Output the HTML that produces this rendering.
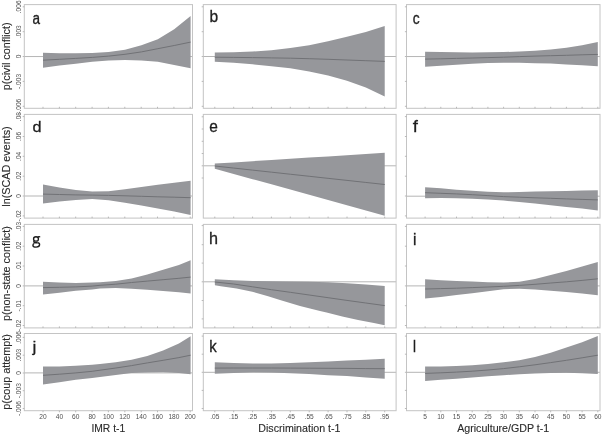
<!DOCTYPE html>
<html><head><meta charset="utf-8"><style>
html,body{margin:0;padding:0;background:#fff;width:602px;height:435px;overflow:hidden}
svg{display:block;font-family:"Liberation Sans",sans-serif;will-change:transform}
</style></head><body>
<svg width="602" height="435" viewBox="0 0 602 435">
<line x1="24.3" y1="56.55" x2="192.5" y2="56.55" stroke="#b5b5b5" stroke-width="1"/>
<polygon points="43.00,52.80 59.40,53.20 75.80,53.20 92.20,53.00 108.60,52.10 125.00,49.70 141.40,45.30 157.80,39.20 174.20,29.30 190.60,15.90 190.60,68.30 174.20,64.90 157.80,61.80 141.40,60.40 125.00,60.10 108.60,60.50 92.20,61.80 75.80,63.70 59.40,65.50 43.00,67.70" fill="#96979b"/>
<polyline points="43.00,60.20 59.40,59.30 75.80,58.40 92.20,57.40 108.60,56.10 125.00,54.30 141.40,51.90 157.80,48.70 174.20,45.50 190.60,42.10" fill="none" stroke="#717276" stroke-width="1"/>
<rect x="24.3" y="4.6" width="168.2" height="103.7" fill="none" stroke="#c4c4c4" stroke-width="1"/>
<line x1="22.7" y1="6.8" x2="24.3" y2="6.8" stroke="#a9a9a9" stroke-width="0.8"/>
<line x1="22.7" y1="31.7" x2="24.3" y2="31.7" stroke="#a9a9a9" stroke-width="0.8"/>
<line x1="22.7" y1="56.5" x2="24.3" y2="56.5" stroke="#a9a9a9" stroke-width="0.8"/>
<line x1="22.7" y1="81.4" x2="24.3" y2="81.4" stroke="#a9a9a9" stroke-width="0.8"/>
<line x1="22.7" y1="106.3" x2="24.3" y2="106.3" stroke="#a9a9a9" stroke-width="0.8"/>
<line x1="43.0" y1="106.8" x2="43.0" y2="108.3" stroke="#a9a9a9" stroke-width="0.8"/>
<line x1="59.4" y1="106.8" x2="59.4" y2="108.3" stroke="#a9a9a9" stroke-width="0.8"/>
<line x1="75.7" y1="106.8" x2="75.7" y2="108.3" stroke="#a9a9a9" stroke-width="0.8"/>
<line x1="92.1" y1="106.8" x2="92.1" y2="108.3" stroke="#a9a9a9" stroke-width="0.8"/>
<line x1="108.4" y1="106.8" x2="108.4" y2="108.3" stroke="#a9a9a9" stroke-width="0.8"/>
<line x1="124.8" y1="106.8" x2="124.8" y2="108.3" stroke="#a9a9a9" stroke-width="0.8"/>
<line x1="141.2" y1="106.8" x2="141.2" y2="108.3" stroke="#a9a9a9" stroke-width="0.8"/>
<line x1="157.5" y1="106.8" x2="157.5" y2="108.3" stroke="#a9a9a9" stroke-width="0.8"/>
<line x1="173.9" y1="106.8" x2="173.9" y2="108.3" stroke="#a9a9a9" stroke-width="0.8"/>
<line x1="190.2" y1="106.8" x2="190.2" y2="108.3" stroke="#a9a9a9" stroke-width="0.8"/>
<text transform="translate(32.44,24.39) scale(0.865,1)" font-size="15.64" fill="#1e1e1e" stroke="#1e1e1e" stroke-width="0.347">a</text>
<line x1="203.3" y1="56.50" x2="396.1" y2="56.50" stroke="#b5b5b5" stroke-width="1"/>
<polygon points="214.80,52.40 233.68,52.30 252.56,51.50 271.44,50.20 290.32,48.00 309.20,45.30 328.08,41.30 346.96,36.80 365.84,32.00 384.72,26.00 384.72,96.40 365.84,87.40 346.96,80.70 328.08,75.60 309.20,71.40 290.32,68.30 271.44,66.20 252.56,64.30 233.68,62.80 214.80,61.80" fill="#96979b"/>
<polyline points="214.80,57.20 233.68,57.40 252.56,57.60 271.44,57.90 290.32,58.20 309.20,58.70 328.08,59.30 346.96,60.00 365.84,60.70 384.72,61.40" fill="none" stroke="#717276" stroke-width="1"/>
<rect x="203.3" y="4.6" width="192.8" height="103.7" fill="none" stroke="#c4c4c4" stroke-width="1"/>
<line x1="201.7" y1="6.8" x2="203.3" y2="6.8" stroke="#a9a9a9" stroke-width="0.8"/>
<line x1="201.7" y1="31.7" x2="203.3" y2="31.7" stroke="#a9a9a9" stroke-width="0.8"/>
<line x1="201.7" y1="56.5" x2="203.3" y2="56.5" stroke="#a9a9a9" stroke-width="0.8"/>
<line x1="201.7" y1="81.4" x2="203.3" y2="81.4" stroke="#a9a9a9" stroke-width="0.8"/>
<line x1="201.7" y1="106.3" x2="203.3" y2="106.3" stroke="#a9a9a9" stroke-width="0.8"/>
<line x1="214.8" y1="106.8" x2="214.8" y2="108.3" stroke="#a9a9a9" stroke-width="0.8"/>
<line x1="233.7" y1="106.8" x2="233.7" y2="108.3" stroke="#a9a9a9" stroke-width="0.8"/>
<line x1="252.6" y1="106.8" x2="252.6" y2="108.3" stroke="#a9a9a9" stroke-width="0.8"/>
<line x1="271.4" y1="106.8" x2="271.4" y2="108.3" stroke="#a9a9a9" stroke-width="0.8"/>
<line x1="290.3" y1="106.8" x2="290.3" y2="108.3" stroke="#a9a9a9" stroke-width="0.8"/>
<line x1="309.2" y1="106.8" x2="309.2" y2="108.3" stroke="#a9a9a9" stroke-width="0.8"/>
<line x1="328.1" y1="106.8" x2="328.1" y2="108.3" stroke="#a9a9a9" stroke-width="0.8"/>
<line x1="347.0" y1="106.8" x2="347.0" y2="108.3" stroke="#a9a9a9" stroke-width="0.8"/>
<line x1="365.8" y1="106.8" x2="365.8" y2="108.3" stroke="#a9a9a9" stroke-width="0.8"/>
<line x1="384.7" y1="106.8" x2="384.7" y2="108.3" stroke="#a9a9a9" stroke-width="0.8"/>
<text transform="translate(209.44,22.19) scale(0.977,1)" font-size="15.92" fill="#1e1e1e" stroke="#1e1e1e" stroke-width="0.307">b</text>
<line x1="406.5" y1="56.55" x2="600.0" y2="56.55" stroke="#b5b5b5" stroke-width="1"/>
<polygon points="425.10,51.70 440.80,52.00 456.50,52.30 472.20,52.40 487.90,52.30 503.60,52.00 519.30,51.60 535.00,50.80 550.70,49.60 566.40,47.80 582.10,45.30 597.80,42.10 597.80,66.30 582.10,65.30 566.40,64.50 550.70,63.60 535.00,63.20 519.30,62.80 503.60,62.70 487.90,63.00 472.20,63.80 456.50,64.70 440.80,65.70 425.10,66.80" fill="#96979b"/>
<polyline points="425.10,59.10 440.80,58.80 456.50,58.40 472.20,58.00 487.90,57.60 503.60,57.20 519.30,56.60 535.00,56.10 550.70,55.70 566.40,55.30 582.10,54.80 597.80,54.40" fill="none" stroke="#717276" stroke-width="1"/>
<rect x="406.5" y="4.6" width="193.5" height="103.7" fill="none" stroke="#c4c4c4" stroke-width="1"/>
<line x1="404.9" y1="6.8" x2="406.5" y2="6.8" stroke="#a9a9a9" stroke-width="0.8"/>
<line x1="404.9" y1="31.7" x2="406.5" y2="31.7" stroke="#a9a9a9" stroke-width="0.8"/>
<line x1="404.9" y1="56.5" x2="406.5" y2="56.5" stroke="#a9a9a9" stroke-width="0.8"/>
<line x1="404.9" y1="81.4" x2="406.5" y2="81.4" stroke="#a9a9a9" stroke-width="0.8"/>
<line x1="404.9" y1="106.3" x2="406.5" y2="106.3" stroke="#a9a9a9" stroke-width="0.8"/>
<line x1="425.1" y1="106.8" x2="425.1" y2="108.3" stroke="#a9a9a9" stroke-width="0.8"/>
<line x1="440.8" y1="106.8" x2="440.8" y2="108.3" stroke="#a9a9a9" stroke-width="0.8"/>
<line x1="456.5" y1="106.8" x2="456.5" y2="108.3" stroke="#a9a9a9" stroke-width="0.8"/>
<line x1="472.2" y1="106.8" x2="472.2" y2="108.3" stroke="#a9a9a9" stroke-width="0.8"/>
<line x1="487.9" y1="106.8" x2="487.9" y2="108.3" stroke="#a9a9a9" stroke-width="0.8"/>
<line x1="503.6" y1="106.8" x2="503.6" y2="108.3" stroke="#a9a9a9" stroke-width="0.8"/>
<line x1="519.3" y1="106.8" x2="519.3" y2="108.3" stroke="#a9a9a9" stroke-width="0.8"/>
<line x1="535.0" y1="106.8" x2="535.0" y2="108.3" stroke="#a9a9a9" stroke-width="0.8"/>
<line x1="550.7" y1="106.8" x2="550.7" y2="108.3" stroke="#a9a9a9" stroke-width="0.8"/>
<line x1="566.4" y1="106.8" x2="566.4" y2="108.3" stroke="#a9a9a9" stroke-width="0.8"/>
<line x1="582.1" y1="106.8" x2="582.1" y2="108.3" stroke="#a9a9a9" stroke-width="0.8"/>
<line x1="597.8" y1="106.8" x2="597.8" y2="108.3" stroke="#a9a9a9" stroke-width="0.8"/>
<text transform="translate(412.73,23.69) scale(0.867,1)" font-size="15.82" fill="#1e1e1e" stroke="#1e1e1e" stroke-width="0.346">c</text>
<text transform="translate(20.6,6.8) rotate(-90)" text-anchor="middle" font-size="6.6" fill="#505050">.006</text>
<text transform="translate(20.6,31.7) rotate(-90)" text-anchor="middle" font-size="6.6" fill="#505050">.003</text>
<text transform="translate(20.6,56.5) rotate(-90)" text-anchor="middle" font-size="6.6" fill="#505050">0</text>
<text transform="translate(20.6,81.4) rotate(-90)" text-anchor="middle" font-size="6.6" fill="#505050">-.003</text>
<text transform="translate(20.6,106.3) rotate(-90)" text-anchor="middle" font-size="6.6" fill="#505050">-.006</text>
<text transform="translate(10.2,56.4) rotate(-90)" text-anchor="middle" font-size="10.8" fill="#2a2a2a" stroke="#2a2a2a" stroke-width="0.12">p(civil conflict)</text>
<line x1="24.3" y1="196.00" x2="192.5" y2="196.00" stroke="#b5b5b5" stroke-width="1"/>
<polygon points="43.00,184.60 59.40,187.50 75.80,189.90 92.20,191.50 108.60,191.20 125.00,189.20 141.40,187.00 157.80,184.80 174.20,182.80 190.60,180.70 190.60,215.00 174.20,211.60 157.80,208.60 141.40,205.60 125.00,202.80 108.60,200.30 92.20,199.10 75.80,200.00 59.40,201.60 43.00,203.60" fill="#96979b"/>
<polyline points="43.00,194.10 59.40,194.50 75.80,194.90 92.20,195.10 108.60,195.40 125.00,195.80 141.40,196.30 157.80,196.80 174.20,197.20 190.60,197.70" fill="none" stroke="#717276" stroke-width="1"/>
<rect x="24.3" y="114.4" width="168.2" height="103.7" fill="none" stroke="#c4c4c4" stroke-width="1"/>
<line x1="22.7" y1="116.6" x2="24.3" y2="116.6" stroke="#a9a9a9" stroke-width="0.8"/>
<line x1="22.7" y1="136.5" x2="24.3" y2="136.5" stroke="#a9a9a9" stroke-width="0.8"/>
<line x1="22.7" y1="156.3" x2="24.3" y2="156.3" stroke="#a9a9a9" stroke-width="0.8"/>
<line x1="22.7" y1="176.2" x2="24.3" y2="176.2" stroke="#a9a9a9" stroke-width="0.8"/>
<line x1="22.7" y1="196.0" x2="24.3" y2="196.0" stroke="#a9a9a9" stroke-width="0.8"/>
<line x1="22.7" y1="215.9" x2="24.3" y2="215.9" stroke="#a9a9a9" stroke-width="0.8"/>
<line x1="43.0" y1="216.6" x2="43.0" y2="218.1" stroke="#a9a9a9" stroke-width="0.8"/>
<line x1="59.4" y1="216.6" x2="59.4" y2="218.1" stroke="#a9a9a9" stroke-width="0.8"/>
<line x1="75.7" y1="216.6" x2="75.7" y2="218.1" stroke="#a9a9a9" stroke-width="0.8"/>
<line x1="92.1" y1="216.6" x2="92.1" y2="218.1" stroke="#a9a9a9" stroke-width="0.8"/>
<line x1="108.4" y1="216.6" x2="108.4" y2="218.1" stroke="#a9a9a9" stroke-width="0.8"/>
<line x1="124.8" y1="216.6" x2="124.8" y2="218.1" stroke="#a9a9a9" stroke-width="0.8"/>
<line x1="141.2" y1="216.6" x2="141.2" y2="218.1" stroke="#a9a9a9" stroke-width="0.8"/>
<line x1="157.5" y1="216.6" x2="157.5" y2="218.1" stroke="#a9a9a9" stroke-width="0.8"/>
<line x1="173.9" y1="216.6" x2="173.9" y2="218.1" stroke="#a9a9a9" stroke-width="0.8"/>
<line x1="190.2" y1="216.6" x2="190.2" y2="218.1" stroke="#a9a9a9" stroke-width="0.8"/>
<text transform="translate(32.50,131.59) scale(1.046,1)" font-size="15.51" fill="#1e1e1e" stroke="#1e1e1e" stroke-width="0.287">d</text>
<line x1="203.3" y1="165.80" x2="396.1" y2="165.80" stroke="#b5b5b5" stroke-width="1"/>
<polygon points="214.80,163.60 233.68,162.40 252.56,161.20 271.44,160.00 290.32,158.80 309.20,157.60 328.08,156.40 346.96,155.20 365.84,154.00 384.72,152.80 384.72,215.70 365.84,210.48 346.96,205.26 328.08,200.03 309.20,194.81 290.32,189.59 271.44,184.37 252.56,179.14 233.68,173.92 214.80,168.70" fill="#96979b"/>
<polyline points="214.80,166.00 233.68,168.06 252.56,170.11 271.44,172.17 290.32,174.22 309.20,176.28 328.08,178.33 346.96,180.39 365.84,182.44 384.72,184.50" fill="none" stroke="#717276" stroke-width="1"/>
<rect x="203.3" y="114.4" width="192.8" height="103.7" fill="none" stroke="#c4c4c4" stroke-width="1"/>
<line x1="201.7" y1="116.8" x2="203.3" y2="116.8" stroke="#a9a9a9" stroke-width="0.8"/>
<line x1="201.7" y1="129.0" x2="203.3" y2="129.0" stroke="#a9a9a9" stroke-width="0.8"/>
<line x1="201.7" y1="141.3" x2="203.3" y2="141.3" stroke="#a9a9a9" stroke-width="0.8"/>
<line x1="201.7" y1="153.5" x2="203.3" y2="153.5" stroke="#a9a9a9" stroke-width="0.8"/>
<line x1="201.7" y1="165.8" x2="203.3" y2="165.8" stroke="#a9a9a9" stroke-width="0.8"/>
<line x1="201.7" y1="178.0" x2="203.3" y2="178.0" stroke="#a9a9a9" stroke-width="0.8"/>
<line x1="214.8" y1="216.6" x2="214.8" y2="218.1" stroke="#a9a9a9" stroke-width="0.8"/>
<line x1="233.7" y1="216.6" x2="233.7" y2="218.1" stroke="#a9a9a9" stroke-width="0.8"/>
<line x1="252.6" y1="216.6" x2="252.6" y2="218.1" stroke="#a9a9a9" stroke-width="0.8"/>
<line x1="271.4" y1="216.6" x2="271.4" y2="218.1" stroke="#a9a9a9" stroke-width="0.8"/>
<line x1="290.3" y1="216.6" x2="290.3" y2="218.1" stroke="#a9a9a9" stroke-width="0.8"/>
<line x1="309.2" y1="216.6" x2="309.2" y2="218.1" stroke="#a9a9a9" stroke-width="0.8"/>
<line x1="328.1" y1="216.6" x2="328.1" y2="218.1" stroke="#a9a9a9" stroke-width="0.8"/>
<line x1="347.0" y1="216.6" x2="347.0" y2="218.1" stroke="#a9a9a9" stroke-width="0.8"/>
<line x1="365.8" y1="216.6" x2="365.8" y2="218.1" stroke="#a9a9a9" stroke-width="0.8"/>
<line x1="384.7" y1="216.6" x2="384.7" y2="218.1" stroke="#a9a9a9" stroke-width="0.8"/>
<text transform="translate(209.15,131.79) scale(0.968,1)" font-size="16.00" fill="#1e1e1e" stroke="#1e1e1e" stroke-width="0.310">e</text>
<line x1="406.5" y1="196.20" x2="600.0" y2="196.20" stroke="#b5b5b5" stroke-width="1"/>
<polygon points="425.10,187.20 440.80,188.20 456.50,189.70 472.20,190.80 487.90,191.70 503.60,192.30 519.30,192.00 535.00,191.60 550.70,191.30 566.40,191.00 582.10,190.60 597.80,190.30 597.80,210.60 582.10,208.60 566.40,206.90 550.70,205.30 535.00,203.60 519.30,201.90 503.60,200.60 487.90,199.40 472.20,198.70 456.50,198.20 440.80,197.90 425.10,198.20" fill="#96979b"/>
<polyline points="425.10,192.70 440.80,193.30 456.50,193.90 472.20,194.70 487.90,195.60 503.60,196.60 519.30,197.20 535.00,197.80 550.70,198.30 566.40,198.90 582.10,199.40 597.80,199.90" fill="none" stroke="#717276" stroke-width="1"/>
<rect x="406.5" y="114.4" width="193.5" height="103.7" fill="none" stroke="#c4c4c4" stroke-width="1"/>
<line x1="404.9" y1="116.6" x2="406.5" y2="116.6" stroke="#a9a9a9" stroke-width="0.8"/>
<line x1="404.9" y1="136.5" x2="406.5" y2="136.5" stroke="#a9a9a9" stroke-width="0.8"/>
<line x1="404.9" y1="156.3" x2="406.5" y2="156.3" stroke="#a9a9a9" stroke-width="0.8"/>
<line x1="404.9" y1="176.2" x2="406.5" y2="176.2" stroke="#a9a9a9" stroke-width="0.8"/>
<line x1="404.9" y1="196.0" x2="406.5" y2="196.0" stroke="#a9a9a9" stroke-width="0.8"/>
<line x1="404.9" y1="215.9" x2="406.5" y2="215.9" stroke="#a9a9a9" stroke-width="0.8"/>
<line x1="425.1" y1="216.6" x2="425.1" y2="218.1" stroke="#a9a9a9" stroke-width="0.8"/>
<line x1="440.8" y1="216.6" x2="440.8" y2="218.1" stroke="#a9a9a9" stroke-width="0.8"/>
<line x1="456.5" y1="216.6" x2="456.5" y2="218.1" stroke="#a9a9a9" stroke-width="0.8"/>
<line x1="472.2" y1="216.6" x2="472.2" y2="218.1" stroke="#a9a9a9" stroke-width="0.8"/>
<line x1="487.9" y1="216.6" x2="487.9" y2="218.1" stroke="#a9a9a9" stroke-width="0.8"/>
<line x1="503.6" y1="216.6" x2="503.6" y2="218.1" stroke="#a9a9a9" stroke-width="0.8"/>
<line x1="519.3" y1="216.6" x2="519.3" y2="218.1" stroke="#a9a9a9" stroke-width="0.8"/>
<line x1="535.0" y1="216.6" x2="535.0" y2="218.1" stroke="#a9a9a9" stroke-width="0.8"/>
<line x1="550.7" y1="216.6" x2="550.7" y2="218.1" stroke="#a9a9a9" stroke-width="0.8"/>
<line x1="566.4" y1="216.6" x2="566.4" y2="218.1" stroke="#a9a9a9" stroke-width="0.8"/>
<line x1="582.1" y1="216.6" x2="582.1" y2="218.1" stroke="#a9a9a9" stroke-width="0.8"/>
<line x1="597.8" y1="216.6" x2="597.8" y2="218.1" stroke="#a9a9a9" stroke-width="0.8"/>
<text transform="translate(412.77,131.75) scale(1.146,1)" font-size="16.14" fill="#1e1e1e" stroke="#1e1e1e" stroke-width="0.262">f</text>
<text transform="translate(20.6,116.6) rotate(-90)" text-anchor="middle" font-size="6.6" fill="#505050">.08</text>
<text transform="translate(20.6,136.5) rotate(-90)" text-anchor="middle" font-size="6.6" fill="#505050">.06</text>
<text transform="translate(20.6,156.3) rotate(-90)" text-anchor="middle" font-size="6.6" fill="#505050">.04</text>
<text transform="translate(20.6,176.2) rotate(-90)" text-anchor="middle" font-size="6.6" fill="#505050">.02</text>
<text transform="translate(20.6,196.0) rotate(-90)" text-anchor="middle" font-size="6.6" fill="#505050">0</text>
<text transform="translate(20.6,215.9) rotate(-90)" text-anchor="middle" font-size="6.6" fill="#505050">-.02</text>
<text transform="translate(10.2,166.5) rotate(-90)" text-anchor="middle" font-size="10.8" fill="#2a2a2a" stroke="#2a2a2a" stroke-width="0.12">ln(SCAD events)</text>
<line x1="24.3" y1="285.90" x2="192.5" y2="285.90" stroke="#b5b5b5" stroke-width="1"/>
<polygon points="43.00,281.70 59.40,282.50 75.80,282.90 92.20,282.60 100.00,282.30 115.80,281.10 131.60,278.40 147.30,274.50 163.10,269.70 178.90,265.00 190.60,260.20 190.60,293.50 178.90,292.30 163.10,291.00 147.30,289.80 131.60,288.70 115.80,288.00 100.00,288.40 92.20,289.40 75.80,290.80 59.40,292.70 43.00,294.60" fill="#96979b"/>
<polyline points="43.00,287.60 59.40,287.30 75.80,286.90 92.20,286.10 100.00,285.30 115.80,284.20 131.60,282.50 147.30,281.10 163.10,279.70 178.90,278.30 190.60,277.10" fill="none" stroke="#717276" stroke-width="1"/>
<rect x="24.3" y="224.4" width="168.2" height="103.5" fill="none" stroke="#c4c4c4" stroke-width="1"/>
<line x1="22.7" y1="226.4" x2="24.3" y2="226.4" stroke="#a9a9a9" stroke-width="0.8"/>
<line x1="22.7" y1="246.2" x2="24.3" y2="246.2" stroke="#a9a9a9" stroke-width="0.8"/>
<line x1="22.7" y1="266.0" x2="24.3" y2="266.0" stroke="#a9a9a9" stroke-width="0.8"/>
<line x1="22.7" y1="285.9" x2="24.3" y2="285.9" stroke="#a9a9a9" stroke-width="0.8"/>
<line x1="22.7" y1="305.7" x2="24.3" y2="305.7" stroke="#a9a9a9" stroke-width="0.8"/>
<line x1="22.7" y1="325.5" x2="24.3" y2="325.5" stroke="#a9a9a9" stroke-width="0.8"/>
<line x1="43.0" y1="326.4" x2="43.0" y2="327.9" stroke="#a9a9a9" stroke-width="0.8"/>
<line x1="59.4" y1="326.4" x2="59.4" y2="327.9" stroke="#a9a9a9" stroke-width="0.8"/>
<line x1="75.7" y1="326.4" x2="75.7" y2="327.9" stroke="#a9a9a9" stroke-width="0.8"/>
<line x1="92.1" y1="326.4" x2="92.1" y2="327.9" stroke="#a9a9a9" stroke-width="0.8"/>
<line x1="108.4" y1="326.4" x2="108.4" y2="327.9" stroke="#a9a9a9" stroke-width="0.8"/>
<line x1="124.8" y1="326.4" x2="124.8" y2="327.9" stroke="#a9a9a9" stroke-width="0.8"/>
<line x1="141.2" y1="326.4" x2="141.2" y2="327.9" stroke="#a9a9a9" stroke-width="0.8"/>
<line x1="157.5" y1="326.4" x2="157.5" y2="327.9" stroke="#a9a9a9" stroke-width="0.8"/>
<line x1="173.9" y1="326.4" x2="173.9" y2="327.9" stroke="#a9a9a9" stroke-width="0.8"/>
<line x1="190.2" y1="326.4" x2="190.2" y2="327.9" stroke="#a9a9a9" stroke-width="0.8"/>
<g fill="none" stroke="#1e1e1e" stroke-width="1.35"><ellipse cx="36.0" cy="238.9" rx="2.45" ry="2.2"/><path d="M37.6 236.75 L40.2 236.75"/><path d="M34.5 240.7 C33.3 241.6 33.6 242.7 35.4 242.75 L37.6 242.75"/><path d="M37.6 242.75 C39.3 242.8 39.6 243.5 39.6 244.6 C39.6 246.2 38.2 247.1 36.1 247.1 C34.0 247.1 32.9 246.3 32.9 245.2 C32.9 244.4 33.4 243.8 34.4 243.4"/></g>
<line x1="203.3" y1="281.80" x2="396.1" y2="281.80" stroke="#b5b5b5" stroke-width="1"/>
<polygon points="214.80,279.30 233.68,280.30 252.56,281.00 271.44,281.30 290.32,281.50 309.20,281.80 328.08,282.20 346.96,283.20 365.84,284.50 384.72,286.00 384.70,325.30 373.90,323.10 358.10,320.00 342.30,316.50 326.60,312.60 320.00,311.10 310.00,308.60 300.00,305.90 290.00,303.00 280.00,300.00 268.10,296.30 252.30,291.80 236.60,288.40 220.80,286.30 214.90,285.20" fill="#96979b"/>
<polyline points="214.80,282.00 233.68,284.00 252.56,286.80 271.44,289.70 290.32,292.30 309.20,295.00 328.08,297.70 346.96,300.40 365.84,303.00 384.72,305.60" fill="none" stroke="#717276" stroke-width="1"/>
<rect x="203.3" y="224.4" width="192.8" height="103.5" fill="none" stroke="#c4c4c4" stroke-width="1"/>
<line x1="201.7" y1="225.6" x2="203.3" y2="225.6" stroke="#a9a9a9" stroke-width="0.8"/>
<line x1="201.7" y1="244.7" x2="203.3" y2="244.7" stroke="#a9a9a9" stroke-width="0.8"/>
<line x1="201.7" y1="263.1" x2="203.3" y2="263.1" stroke="#a9a9a9" stroke-width="0.8"/>
<line x1="201.7" y1="281.8" x2="203.3" y2="281.8" stroke="#a9a9a9" stroke-width="0.8"/>
<line x1="201.7" y1="300.5" x2="203.3" y2="300.5" stroke="#a9a9a9" stroke-width="0.8"/>
<line x1="201.7" y1="318.9" x2="203.3" y2="318.9" stroke="#a9a9a9" stroke-width="0.8"/>
<line x1="214.8" y1="326.4" x2="214.8" y2="327.9" stroke="#a9a9a9" stroke-width="0.8"/>
<line x1="233.7" y1="326.4" x2="233.7" y2="327.9" stroke="#a9a9a9" stroke-width="0.8"/>
<line x1="252.6" y1="326.4" x2="252.6" y2="327.9" stroke="#a9a9a9" stroke-width="0.8"/>
<line x1="271.4" y1="326.4" x2="271.4" y2="327.9" stroke="#a9a9a9" stroke-width="0.8"/>
<line x1="290.3" y1="326.4" x2="290.3" y2="327.9" stroke="#a9a9a9" stroke-width="0.8"/>
<line x1="309.2" y1="326.4" x2="309.2" y2="327.9" stroke="#a9a9a9" stroke-width="0.8"/>
<line x1="328.1" y1="326.4" x2="328.1" y2="327.9" stroke="#a9a9a9" stroke-width="0.8"/>
<line x1="347.0" y1="326.4" x2="347.0" y2="327.9" stroke="#a9a9a9" stroke-width="0.8"/>
<line x1="365.8" y1="326.4" x2="365.8" y2="327.9" stroke="#a9a9a9" stroke-width="0.8"/>
<line x1="384.7" y1="326.4" x2="384.7" y2="327.9" stroke="#a9a9a9" stroke-width="0.8"/>
<text transform="translate(209.02,244.45) scale(1.003,1)" font-size="16.14" fill="#1e1e1e" stroke="#1e1e1e" stroke-width="0.299">h</text>
<line x1="406.5" y1="285.90" x2="600.0" y2="285.90" stroke="#b5b5b5" stroke-width="1"/>
<polygon points="425.10,279.20 440.80,280.20 456.50,280.90 472.20,281.60 487.90,282.30 503.60,282.60 519.30,281.70 535.00,279.00 550.70,275.00 566.40,270.90 582.10,266.50 597.80,262.00 597.80,295.30 582.10,293.60 566.40,292.10 550.70,290.80 535.00,289.50 519.30,288.80 503.60,289.20 487.90,291.20 472.20,293.20 456.50,295.10 440.80,296.90 425.10,298.60" fill="#96979b"/>
<polyline points="425.10,289.00 440.80,288.60 456.50,288.20 472.20,287.60 487.90,287.00 503.60,286.30 519.30,285.40 535.00,284.30 550.70,283.00 566.40,281.80 582.10,280.40 597.80,278.80" fill="none" stroke="#717276" stroke-width="1"/>
<rect x="406.5" y="224.4" width="193.5" height="103.5" fill="none" stroke="#c4c4c4" stroke-width="1"/>
<line x1="404.9" y1="226.4" x2="406.5" y2="226.4" stroke="#a9a9a9" stroke-width="0.8"/>
<line x1="404.9" y1="246.2" x2="406.5" y2="246.2" stroke="#a9a9a9" stroke-width="0.8"/>
<line x1="404.9" y1="266.0" x2="406.5" y2="266.0" stroke="#a9a9a9" stroke-width="0.8"/>
<line x1="404.9" y1="285.9" x2="406.5" y2="285.9" stroke="#a9a9a9" stroke-width="0.8"/>
<line x1="404.9" y1="305.7" x2="406.5" y2="305.7" stroke="#a9a9a9" stroke-width="0.8"/>
<line x1="404.9" y1="325.5" x2="406.5" y2="325.5" stroke="#a9a9a9" stroke-width="0.8"/>
<line x1="425.1" y1="326.4" x2="425.1" y2="327.9" stroke="#a9a9a9" stroke-width="0.8"/>
<line x1="440.8" y1="326.4" x2="440.8" y2="327.9" stroke="#a9a9a9" stroke-width="0.8"/>
<line x1="456.5" y1="326.4" x2="456.5" y2="327.9" stroke="#a9a9a9" stroke-width="0.8"/>
<line x1="472.2" y1="326.4" x2="472.2" y2="327.9" stroke="#a9a9a9" stroke-width="0.8"/>
<line x1="487.9" y1="326.4" x2="487.9" y2="327.9" stroke="#a9a9a9" stroke-width="0.8"/>
<line x1="503.6" y1="326.4" x2="503.6" y2="327.9" stroke="#a9a9a9" stroke-width="0.8"/>
<line x1="519.3" y1="326.4" x2="519.3" y2="327.9" stroke="#a9a9a9" stroke-width="0.8"/>
<line x1="535.0" y1="326.4" x2="535.0" y2="327.9" stroke="#a9a9a9" stroke-width="0.8"/>
<line x1="550.7" y1="326.4" x2="550.7" y2="327.9" stroke="#a9a9a9" stroke-width="0.8"/>
<line x1="566.4" y1="326.4" x2="566.4" y2="327.9" stroke="#a9a9a9" stroke-width="0.8"/>
<line x1="582.1" y1="326.4" x2="582.1" y2="327.9" stroke="#a9a9a9" stroke-width="0.8"/>
<line x1="597.8" y1="326.4" x2="597.8" y2="327.9" stroke="#a9a9a9" stroke-width="0.8"/>
<text transform="translate(412.99,244.55) scale(0.989,1)" font-size="15.72" fill="#1e1e1e" stroke="#1e1e1e" stroke-width="0.303">i</text>
<text transform="translate(20.6,226.4) rotate(-90)" text-anchor="middle" font-size="6.6" fill="#505050">.03</text>
<text transform="translate(20.6,246.2) rotate(-90)" text-anchor="middle" font-size="6.6" fill="#505050">.02</text>
<text transform="translate(20.6,266.0) rotate(-90)" text-anchor="middle" font-size="6.6" fill="#505050">.01</text>
<text transform="translate(20.6,285.9) rotate(-90)" text-anchor="middle" font-size="6.6" fill="#505050">0</text>
<text transform="translate(20.6,305.7) rotate(-90)" text-anchor="middle" font-size="6.6" fill="#505050">-.01</text>
<text transform="translate(20.6,325.5) rotate(-90)" text-anchor="middle" font-size="6.6" fill="#505050">-.02</text>
<text transform="translate(10.2,273.6) rotate(-90)" text-anchor="middle" font-size="10.8" fill="#2a2a2a" stroke="#2a2a2a" stroke-width="0.12">p(non-state conflict)</text>
<line x1="24.3" y1="372.90" x2="192.5" y2="372.90" stroke="#b5b5b5" stroke-width="1"/>
<polygon points="43.00,366.60 59.40,366.40 75.80,365.80 92.20,364.80 100.00,363.90 115.80,362.30 131.60,359.70 147.30,356.00 163.10,350.50 178.90,343.40 190.60,336.20 190.60,374.20 178.90,372.90 163.10,372.30 147.30,372.40 131.60,373.10 115.80,375.10 100.00,377.00 92.20,378.00 75.80,379.80 59.40,382.30 43.00,384.60" fill="#96979b"/>
<polyline points="43.00,375.30 59.40,374.20 75.80,372.90 92.20,371.30 100.00,370.20 115.80,368.00 131.60,365.60 147.30,362.90 163.10,360.30 178.90,357.60 190.60,355.20" fill="none" stroke="#717276" stroke-width="1"/>
<rect x="24.3" y="333.5" width="168.2" height="77.2" fill="none" stroke="#c4c4c4" stroke-width="1"/>
<line x1="22.7" y1="337.4" x2="24.3" y2="337.4" stroke="#a9a9a9" stroke-width="0.8"/>
<line x1="22.7" y1="355.2" x2="24.3" y2="355.2" stroke="#a9a9a9" stroke-width="0.8"/>
<line x1="22.7" y1="373.0" x2="24.3" y2="373.0" stroke="#a9a9a9" stroke-width="0.8"/>
<line x1="22.7" y1="390.7" x2="24.3" y2="390.7" stroke="#a9a9a9" stroke-width="0.8"/>
<line x1="22.7" y1="408.5" x2="24.3" y2="408.5" stroke="#a9a9a9" stroke-width="0.8"/>
<line x1="43.0" y1="410.7" x2="43.0" y2="412.3" stroke="#a9a9a9" stroke-width="0.8"/>
<line x1="59.4" y1="410.7" x2="59.4" y2="412.3" stroke="#a9a9a9" stroke-width="0.8"/>
<line x1="75.7" y1="410.7" x2="75.7" y2="412.3" stroke="#a9a9a9" stroke-width="0.8"/>
<line x1="92.1" y1="410.7" x2="92.1" y2="412.3" stroke="#a9a9a9" stroke-width="0.8"/>
<line x1="108.4" y1="410.7" x2="108.4" y2="412.3" stroke="#a9a9a9" stroke-width="0.8"/>
<line x1="124.8" y1="410.7" x2="124.8" y2="412.3" stroke="#a9a9a9" stroke-width="0.8"/>
<line x1="141.2" y1="410.7" x2="141.2" y2="412.3" stroke="#a9a9a9" stroke-width="0.8"/>
<line x1="157.5" y1="410.7" x2="157.5" y2="412.3" stroke="#a9a9a9" stroke-width="0.8"/>
<line x1="173.9" y1="410.7" x2="173.9" y2="412.3" stroke="#a9a9a9" stroke-width="0.8"/>
<line x1="190.2" y1="410.7" x2="190.2" y2="412.3" stroke="#a9a9a9" stroke-width="0.8"/>
<text transform="translate(32.38,351.61) scale(1.150,1)" font-size="14.97" fill="#1e1e1e" stroke="#1e1e1e" stroke-width="0.261">j</text>
<line x1="203.3" y1="372.30" x2="396.1" y2="372.30" stroke="#b5b5b5" stroke-width="1"/>
<polygon points="214.80,362.20 233.68,362.90 252.56,363.50 271.44,363.50 290.32,362.90 309.20,362.20 328.08,361.50 346.96,360.60 365.84,359.70 384.72,358.80 384.72,378.70 365.84,377.40 346.96,376.10 328.08,375.20 309.20,374.10 290.32,373.30 271.44,372.50 252.56,372.20 233.68,372.90 214.80,373.70" fill="#96979b"/>
<polyline points="214.80,368.10 233.68,368.00 252.56,368.00 271.44,368.00 290.32,368.10 309.20,368.20 328.08,368.30 346.96,368.40 365.84,368.60 384.72,368.70" fill="none" stroke="#717276" stroke-width="1"/>
<rect x="203.3" y="333.5" width="192.8" height="77.2" fill="none" stroke="#c4c4c4" stroke-width="1"/>
<line x1="201.7" y1="336.1" x2="203.3" y2="336.1" stroke="#a9a9a9" stroke-width="0.8"/>
<line x1="201.7" y1="354.2" x2="203.3" y2="354.2" stroke="#a9a9a9" stroke-width="0.8"/>
<line x1="201.7" y1="372.3" x2="203.3" y2="372.3" stroke="#a9a9a9" stroke-width="0.8"/>
<line x1="201.7" y1="390.4" x2="203.3" y2="390.4" stroke="#a9a9a9" stroke-width="0.8"/>
<line x1="201.7" y1="408.5" x2="203.3" y2="408.5" stroke="#a9a9a9" stroke-width="0.8"/>
<line x1="214.8" y1="410.7" x2="214.8" y2="412.3" stroke="#a9a9a9" stroke-width="0.8"/>
<line x1="233.7" y1="410.7" x2="233.7" y2="412.3" stroke="#a9a9a9" stroke-width="0.8"/>
<line x1="252.6" y1="410.7" x2="252.6" y2="412.3" stroke="#a9a9a9" stroke-width="0.8"/>
<line x1="271.4" y1="410.7" x2="271.4" y2="412.3" stroke="#a9a9a9" stroke-width="0.8"/>
<line x1="290.3" y1="410.7" x2="290.3" y2="412.3" stroke="#a9a9a9" stroke-width="0.8"/>
<line x1="309.2" y1="410.7" x2="309.2" y2="412.3" stroke="#a9a9a9" stroke-width="0.8"/>
<line x1="328.1" y1="410.7" x2="328.1" y2="412.3" stroke="#a9a9a9" stroke-width="0.8"/>
<line x1="347.0" y1="410.7" x2="347.0" y2="412.3" stroke="#a9a9a9" stroke-width="0.8"/>
<line x1="365.8" y1="410.7" x2="365.8" y2="412.3" stroke="#a9a9a9" stroke-width="0.8"/>
<line x1="384.7" y1="410.7" x2="384.7" y2="412.3" stroke="#a9a9a9" stroke-width="0.8"/>
<text transform="translate(209.18,351.65) scale(0.934,1)" font-size="16.00" fill="#1e1e1e" stroke="#1e1e1e" stroke-width="0.321">k</text>
<line x1="406.5" y1="372.30" x2="600.0" y2="372.30" stroke="#b5b5b5" stroke-width="1"/>
<polygon points="425.10,366.60 440.80,366.40 456.50,366.00 472.20,365.30 487.90,364.10 503.60,362.30 519.30,360.20 535.00,357.00 550.70,352.80 566.40,347.60 582.10,342.30 597.80,336.00 597.80,374.00 582.10,373.30 566.40,372.80 550.70,373.00 535.00,373.40 519.30,374.20 503.60,375.20 487.90,376.30 472.20,377.60 456.50,378.70 440.80,379.80 425.10,380.90" fill="#96979b"/>
<polyline points="425.10,373.40 440.80,372.80 456.50,372.10 472.20,371.20 487.90,370.00 503.60,368.60 519.30,366.80 535.00,364.80 550.70,362.60 566.40,360.30 582.10,357.80 597.80,355.20" fill="none" stroke="#717276" stroke-width="1"/>
<rect x="406.5" y="333.5" width="193.5" height="77.2" fill="none" stroke="#c4c4c4" stroke-width="1"/>
<line x1="404.9" y1="336.1" x2="406.5" y2="336.1" stroke="#a9a9a9" stroke-width="0.8"/>
<line x1="404.9" y1="354.2" x2="406.5" y2="354.2" stroke="#a9a9a9" stroke-width="0.8"/>
<line x1="404.9" y1="372.3" x2="406.5" y2="372.3" stroke="#a9a9a9" stroke-width="0.8"/>
<line x1="404.9" y1="390.4" x2="406.5" y2="390.4" stroke="#a9a9a9" stroke-width="0.8"/>
<line x1="404.9" y1="408.5" x2="406.5" y2="408.5" stroke="#a9a9a9" stroke-width="0.8"/>
<line x1="425.1" y1="410.7" x2="425.1" y2="412.3" stroke="#a9a9a9" stroke-width="0.8"/>
<line x1="440.8" y1="410.7" x2="440.8" y2="412.3" stroke="#a9a9a9" stroke-width="0.8"/>
<line x1="456.5" y1="410.7" x2="456.5" y2="412.3" stroke="#a9a9a9" stroke-width="0.8"/>
<line x1="472.2" y1="410.7" x2="472.2" y2="412.3" stroke="#a9a9a9" stroke-width="0.8"/>
<line x1="487.9" y1="410.7" x2="487.9" y2="412.3" stroke="#a9a9a9" stroke-width="0.8"/>
<line x1="503.6" y1="410.7" x2="503.6" y2="412.3" stroke="#a9a9a9" stroke-width="0.8"/>
<line x1="519.3" y1="410.7" x2="519.3" y2="412.3" stroke="#a9a9a9" stroke-width="0.8"/>
<line x1="535.0" y1="410.7" x2="535.0" y2="412.3" stroke="#a9a9a9" stroke-width="0.8"/>
<line x1="550.7" y1="410.7" x2="550.7" y2="412.3" stroke="#a9a9a9" stroke-width="0.8"/>
<line x1="566.4" y1="410.7" x2="566.4" y2="412.3" stroke="#a9a9a9" stroke-width="0.8"/>
<line x1="582.1" y1="410.7" x2="582.1" y2="412.3" stroke="#a9a9a9" stroke-width="0.8"/>
<line x1="597.8" y1="410.7" x2="597.8" y2="412.3" stroke="#a9a9a9" stroke-width="0.8"/>
<text transform="translate(413.08,351.65) scale(0.833,1)" font-size="16.00" fill="#1e1e1e" stroke="#1e1e1e" stroke-width="0.360">l</text>
<text transform="translate(20.6,337.4) rotate(-90)" text-anchor="middle" font-size="6.6" fill="#505050">.006</text>
<text transform="translate(20.6,355.2) rotate(-90)" text-anchor="middle" font-size="6.6" fill="#505050">.003</text>
<text transform="translate(20.6,373.0) rotate(-90)" text-anchor="middle" font-size="6.6" fill="#505050">0</text>
<text transform="translate(20.6,390.7) rotate(-90)" text-anchor="middle" font-size="6.6" fill="#505050">-.003</text>
<text transform="translate(20.6,408.5) rotate(-90)" text-anchor="middle" font-size="6.6" fill="#505050">-.006</text>
<text transform="translate(10.2,372.0) rotate(-90)" text-anchor="middle" font-size="10.8" fill="#2a2a2a" stroke="#2a2a2a" stroke-width="0.12">p(coup attempt)</text>
<text x="43.0" y="418.9" text-anchor="middle" font-size="6.6" fill="#505050">20</text>
<text x="59.4" y="418.9" text-anchor="middle" font-size="6.6" fill="#505050">40</text>
<text x="75.7" y="418.9" text-anchor="middle" font-size="6.6" fill="#505050">60</text>
<text x="92.1" y="418.9" text-anchor="middle" font-size="6.6" fill="#505050">80</text>
<text x="108.4" y="418.9" text-anchor="middle" font-size="6.6" fill="#505050">100</text>
<text x="124.8" y="418.9" text-anchor="middle" font-size="6.6" fill="#505050">120</text>
<text x="141.2" y="418.9" text-anchor="middle" font-size="6.6" fill="#505050">140</text>
<text x="157.5" y="418.9" text-anchor="middle" font-size="6.6" fill="#505050">160</text>
<text x="173.9" y="418.9" text-anchor="middle" font-size="6.6" fill="#505050">180</text>
<text x="190.2" y="418.9" text-anchor="middle" font-size="6.6" fill="#505050">200</text>
<text x="108.3" y="432.1" text-anchor="middle" font-size="10.3" fill="#2a2a2a" stroke="#2a2a2a" stroke-width="0.12">IMR t-1</text>
<text x="214.8" y="418.9" text-anchor="middle" font-size="6.6" fill="#505050">.05</text>
<text x="233.7" y="418.9" text-anchor="middle" font-size="6.6" fill="#505050">.15</text>
<text x="252.6" y="418.9" text-anchor="middle" font-size="6.6" fill="#505050">.25</text>
<text x="271.4" y="418.9" text-anchor="middle" font-size="6.6" fill="#505050">.35</text>
<text x="290.3" y="418.9" text-anchor="middle" font-size="6.6" fill="#505050">.45</text>
<text x="309.2" y="418.9" text-anchor="middle" font-size="6.6" fill="#505050">.55</text>
<text x="328.1" y="418.9" text-anchor="middle" font-size="6.6" fill="#505050">.65</text>
<text x="347.0" y="418.9" text-anchor="middle" font-size="6.6" fill="#505050">.75</text>
<text x="365.8" y="418.9" text-anchor="middle" font-size="6.6" fill="#505050">.85</text>
<text x="384.7" y="418.9" text-anchor="middle" font-size="6.6" fill="#505050">.95</text>
<text x="299.4" y="432.1" text-anchor="middle" font-size="10.65" fill="#2a2a2a" stroke="#2a2a2a" stroke-width="0.12">Discrimination t-1</text>
<text x="425.1" y="418.9" text-anchor="middle" font-size="6.6" fill="#505050">5</text>
<text x="440.8" y="418.9" text-anchor="middle" font-size="6.6" fill="#505050">10</text>
<text x="456.5" y="418.9" text-anchor="middle" font-size="6.6" fill="#505050">15</text>
<text x="472.2" y="418.9" text-anchor="middle" font-size="6.6" fill="#505050">20</text>
<text x="487.9" y="418.9" text-anchor="middle" font-size="6.6" fill="#505050">25</text>
<text x="503.6" y="418.9" text-anchor="middle" font-size="6.6" fill="#505050">30</text>
<text x="519.3" y="418.9" text-anchor="middle" font-size="6.6" fill="#505050">35</text>
<text x="535.0" y="418.9" text-anchor="middle" font-size="6.6" fill="#505050">40</text>
<text x="550.7" y="418.9" text-anchor="middle" font-size="6.6" fill="#505050">45</text>
<text x="566.4" y="418.9" text-anchor="middle" font-size="6.6" fill="#505050">50</text>
<text x="582.1" y="418.9" text-anchor="middle" font-size="6.6" fill="#505050">55</text>
<text x="597.8" y="418.9" text-anchor="middle" font-size="6.6" fill="#505050">60</text>
<text x="503.2" y="432.1" text-anchor="middle" font-size="10.65" fill="#2a2a2a" stroke="#2a2a2a" stroke-width="0.12">Agriculture/GDP t-1</text>
</svg>
</body></html>
